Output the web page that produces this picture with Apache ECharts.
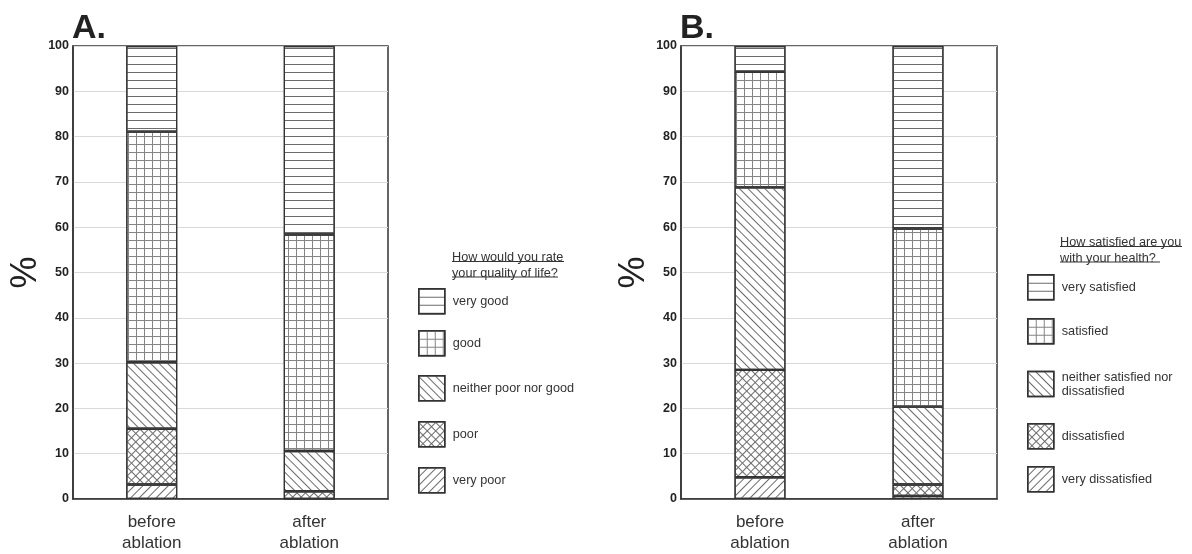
<!DOCTYPE html>
<html>
<head>
<meta charset="utf-8">
<script src="https://cdn.jsdelivr.net/npm/echarts@6/dist/echarts.min.js"></script>
<style>
  html, body { margin: 0; padding: 0; background: #fff; }
  #chart { width: 1192px; height: 554px; }
</style>
</head>
<body>
<div id="chart"></div>
<script>
// categories on the x axis (same for both panels)
const categories = ['before\nablation', 'after\nablation']
const yTicks = [0, 10, 20, 30, 40, 50, 60, 70, 80, 90, 100]

// A. How would you rate your quality of life?  (% per category)
const qolNames = ['very poor', 'poor', 'neither poor nor good', 'good', 'very good']
const qolVeryPoor = [3.2, 0]
const qolPoor = [12.3, 1.7]
const qolNeither = [14.7, 8.9]
const qolGood = [50.9, 47.8]
const qolVeryGood = [18.9, 41.6]

// B. How satisfied are you with your health?
const hNames = ['very dissatisfied', 'dissatisfied', 'neither satisfied nor dissatisfied', 'satisfied', 'very satisfied']
const hVeryDis = [4.8, 0.7]
const hDis = [23.7, 2.5]
const hNeither = [40.3, 17.2]
const hSat = [25.5, 39.3]
const hVerySat = [5.7, 40.3]

const font = 'Liberation Sans, Arial, sans-serif'
const patternColor = '#6b6b6b'
const decals = {
  hlines: { symbol: 'rect', color: patternColor, dashArrayX: [[1, 0]], dashArrayY: [1, 7] },
  grid: { symbol: 'rect', color: '#858585', dashArrayX: [[8, 0], [1, 7]], dashArrayY: [1, 0, 7, 0] },
  back: { symbol: 'rect', color: patternColor, dashArrayX: [[1, 0]], dashArrayY: [1, 5], rotation: Math.PI / 4 },
  cross: { symbol: 'rect', color: patternColor, dashArrayX: [[6, 0], [1, 5]], dashArrayY: [1, 0, 5, 0], rotation: Math.PI / 4 },
  fwd: { symbol: 'rect', color: patternColor, dashArrayX: [[1, 0]], dashArrayY: [1, 5], rotation: -Math.PI / 4 }
}
const decalOrder = ['fwd', 'cross', 'back', 'grid', 'hlines']

function makeSeries (names, values, axisIndex, stack) {
  return names.map((name, i) => ({
    name: name,
    type: 'bar',
    stack: stack,
    xAxisIndex: axisIndex,
    yAxisIndex: axisIndex,
    barWidth: 51,
    data: values[i],
    itemStyle: {
      color: '#fff',
      borderColor: '#333',
      borderWidth: 1.2,
      decal: decals[decalOrder[i]]
    },
    emphasis: { disabled: true }
  }))
}

function makeX (gridIndex) {
  return {
    type: 'category',
    gridIndex: gridIndex,
    data: categories,
    axisLine: { lineStyle: { color: '#333', width: 1.5 } },
    axisTick: { show: false },
    axisLabel: { color: '#333', fontSize: 17, lineHeight: 21, margin: 13, fontFamily: font }
  }
}

function makeY (gridIndex) {
  return {
    type: 'value',
    gridIndex: gridIndex,
    min: yTicks[0],
    max: yTicks[yTicks.length - 1],
    interval: 10,
    name: '%',
    nameLocation: 'middle',
    nameGap: 29,
    nameMoveOverlap: false,
    nameTextStyle: { fontSize: 36, color: '#222', fontFamily: font },
    axisLine: { show: true, lineStyle: { color: '#333', width: 1.5 } },
    axisTick: { show: false },
    axisLabel: { color: '#222', fontSize: 12.5, fontWeight: 'bold', margin: 4, fontFamily: font },
    splitLine: { lineStyle: { color: '#d9d9d9', width: 1 } }
  }
}

// one legend per item so they can sit at the same spots as in the figure
function makeLegends (names, left, tops) {
  return names.map((name, i) => ({
    data: [name],
    left: left,
    top: tops[i],
    padding: 0,
    orient: 'vertical',
    itemWidth: 26,
    itemHeight: 25,
    icon: 'rect',
    selectedMode: false,
    itemStyle: { borderColor: '#333', borderWidth: 1.5 },
    textStyle: {
      color: '#333',
      fontSize: 12.7,
      fontFamily: font,
      lineHeight: 14,
      padding: name.indexOf('satisfied nor') >= 0 ? [14, 0, 0, 3] : [0, 0, 0, 3]
    },
    formatter: n => n === 'neither satisfied nor dissatisfied' ? 'neither satisfied nor\ndissatisfied' : n
  }))
}

const chart = echarts.init(document.getElementById('chart'))
chart.setOption({
  animation: false,
  title: [
    { text: 'A.', left: 67, top: 7, textStyle: { fontSize: 34, fontWeight: 'bold', color: '#222', fontFamily: font } },
    { text: 'B.', left: 675, top: 7, textStyle: { fontSize: 34, fontWeight: 'bold', color: '#222', fontFamily: font } },
    { text: 'How would you rate\nyour quality of life?', left: 447, top: 245, textStyle: { fontSize: 12.7, fontWeight: 'normal', color: '#333', lineHeight: 15.5, fontFamily: font } },
    { text: 'How satisfied are you\nwith your health?', left: 1055, top: 230, textStyle: { fontSize: 12.7, fontWeight: 'normal', color: '#333', lineHeight: 15.5, fontFamily: font } }
  ],
  graphic: [
    { type: 'line', shape: { x1: 452, y1: 261.5, x2: 564, y2: 261.5 }, style: { stroke: '#333', lineWidth: 1 } },
    { type: 'line', shape: { x1: 452, y1: 277, x2: 558, y2: 277 }, style: { stroke: '#333', lineWidth: 1 } },
    { type: 'line', shape: { x1: 1060, y1: 246.5, x2: 1182, y2: 246.5 }, style: { stroke: '#333', lineWidth: 1 } },
    { type: 'line', shape: { x1: 1060, y1: 262, x2: 1160, y2: 262 }, style: { stroke: '#333', lineWidth: 1 } }
  ],
  legend: [
    ...makeLegends(qolNames, 418, [467, 421, 375, 330, 288]),
    ...makeLegends(hNames, 1027, [466, 423, 363, 318, 274])
  ],
  grid: [
    { left: 73, top: 46, width: 315, height: 454, show: true, borderColor: '#333', borderWidth: 1.5, backgroundColor: '#fff' },
    { left: 681, top: 46, width: 316, height: 454, show: true, borderColor: '#333', borderWidth: 1.5, backgroundColor: '#fff' }
  ],
  xAxis: [makeX(0), makeX(1)],
  yAxis: [makeY(0), makeY(1)],
  series: [
    ...makeSeries(qolNames, [qolVeryPoor, qolPoor, qolNeither, qolGood, qolVeryGood], 0, 'qol'),
    ...makeSeries(hNames, [hVeryDis, hDis, hNeither, hSat, hVerySat], 1, 'health')
  ]
})
</script>
</body>
</html>
